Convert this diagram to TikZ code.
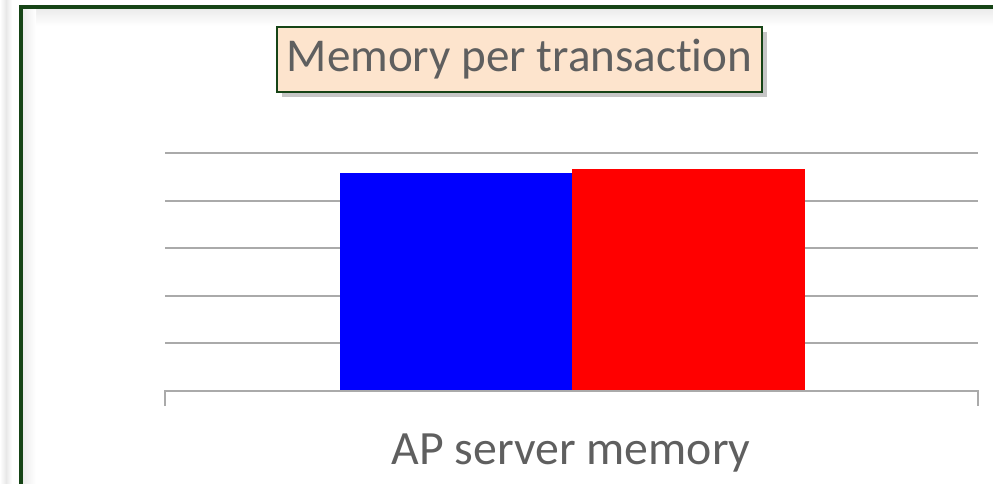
\documentclass[tikz,border=0pt]{standalone}
\usepackage{fontspec}
\setmainfont{Carlito}[Ligatures=NoCommon]
\usetikzlibrary{shadows}
\definecolor{framegreen}{RGB}{22,68,22}
\definecolor{peach}{RGB}{253,228,205}
\definecolor{labelgray}{RGB}{95,95,95}
\definecolor{gridgray}{RGB}{170,170,170}
\tikzset{
  gridline/.style={draw=gridgray, line width=1.2pt},
  titlebox/.style={draw=framegreen, line width=1.3pt, fill=peach, text=labelgray,
    minimum width=9.7cm, minimum height=1.3cm, inner sep=0pt,
    font=\fontsize{26.8}{30}\selectfont,
    drop shadow={shadow xshift=3pt, shadow yshift=-3pt, opacity=0.45}},
  axislabel/.style={text=labelgray, inner sep=0pt, font=\fontsize{27.2}{30}\selectfont},
}
\begin{document}
\begin{tikzpicture}[x=0.02cm, y=-0.02cm] % {{{
\useasboundingbox (0,0) rectangle (993,483);
\clip (0,0) rectangle (993,483);
\begin{scope} % Frame {{{
\shade[left color=white, right color=gray!18] (0,0) rectangle (6,483);
\shade[left color=gray!18, right color=white] (6,0) rectangle (12,483);
\shade[top color=gray!16, bottom color=white] (22,8) rectangle (1000,26);
\shade[left color=gray!16, right color=white] (22,8) rectangle (36,490);
\draw[framegreen, line width=1.8pt] (21,490) -- (21,7) -- (1000,7);
\end{scope} % }}}
\begin{scope} % Chart {{{
    \foreach \y in {153,200.6,248.2,295.8,343.4} {
      \draw[gridline] (165,\y) -- (978,\y);
    }
\fill[blue] (340,173) rectangle (572,391);
\fill[red] (572,169) rectangle (805,391);
\draw[gridline] (165,406) -- (165,391) -- (978,391) -- (978,406);
\node[axislabel, anchor=base] (xlabel) at (571,464) {AP server memory};
\end{scope} % }}}
\node[titlebox] (title) at (519.5,59.5) {Memory per transaction};
\end{tikzpicture}
\end{document}
